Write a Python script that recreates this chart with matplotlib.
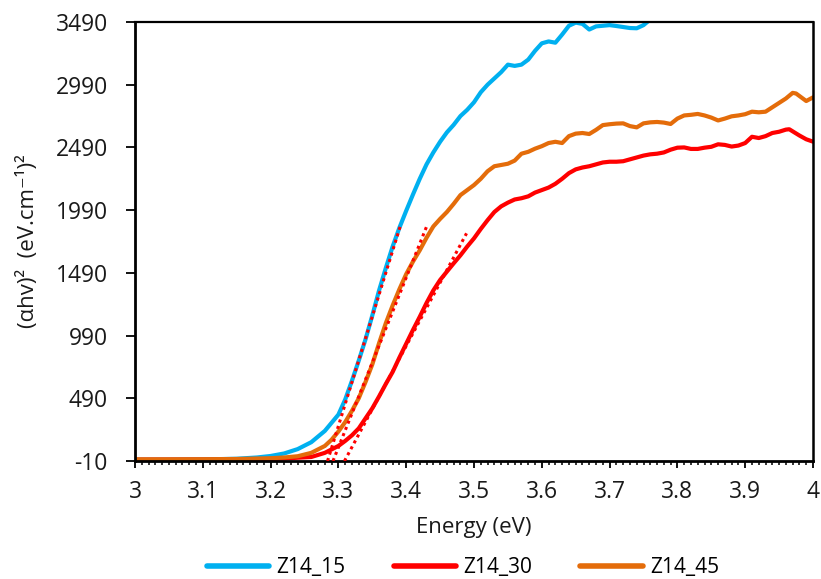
import matplotlib
matplotlib.use("Agg")
import matplotlib.pyplot as plt
import numpy as np
from matplotlib.ticker import MultipleLocator

plt.rcParams['font.family'] = ['Open Sans', 'DejaVu Sans']

# ---- data ----
e_15 = [3.00,3.05,3.10,3.15,3.18,3.20,3.22,3.24,3.26,3.28,3.30,3.31,3.32,3.33,3.34,3.35,3.36,3.37,3.38,3.39,
        3.40,3.41,3.42,3.43,3.44,3.45,3.46,3.47,3.48,3.49,3.50,3.51,3.52,3.53,3.54,3.55,3.56,3.57,3.58,3.59,
        3.60,3.61,3.62,3.63,3.64,3.65,3.66,3.67,3.68,3.69,3.70,3.71,3.72,3.73,3.74,3.75,3.76,3.78,3.80]
y_15 = [0,0,2,8,18,30,50,85,140,230,360,480,630,790,960,1150,1350,1530,1700,1850,
        1985,2115,2240,2355,2450,2535,2610,2670,2740,2790,2850,2930,2990,3040,3090,3150,3140,3150,3190,3260,
        3320,3335,3325,3390,3460,3485,3475,3430,3455,3460,3465,3458,3450,3442,3440,3465,3510,3560,3600]

e_30 = [3.00,3.10,3.15,3.20,3.22,3.24,3.26,3.28,3.30,3.31,3.32,3.33,3.34,3.35,3.36,3.37,3.38,3.39,
        3.40,3.41,3.42,3.43,3.44,3.45,3.46,3.47,3.48,3.49,3.50,3.51,3.52,3.53,3.54,3.55,3.56,3.57,3.58,3.59,
        3.60,3.61,3.62,3.63,3.64,3.65,3.66,3.67,3.68,3.69,3.70,3.71,3.72,3.73,3.74,3.75,3.76,3.77,3.78,3.79,
        3.80,3.81,3.82,3.83,3.84,3.85,3.86,3.87,3.88,3.89,3.90,3.91,3.92,3.93,3.94,3.95,3.96,3.965,3.98,3.99,4.00]
y_30 = [1,2,3,6,10,16,22,55,110,150,195,250,330,410,505,605,700,815,
        925,1035,1140,1250,1350,1433,1500,1566,1630,1700,1765,1840,1910,1975,2020,2050,2075,2085,2100,2130,
        2150,2170,2200,2240,2285,2315,2330,2340,2355,2370,2376,2376,2380,2395,2410,2425,2435,2440,2450,2472,
        2488,2490,2478,2478,2488,2495,2515,2510,2497,2505,2525,2575,2565,2580,2605,2615,2632,2635,2585,2555,2536]

e_45 = [3.00,3.05,3.10,3.15,3.20,3.22,3.24,3.26,3.28,3.29,3.30,3.31,3.32,3.33,3.34,3.35,3.36,3.37,3.38,3.39,
        3.40,3.41,3.42,3.43,3.44,3.45,3.46,3.47,3.48,3.49,3.50,3.51,3.52,3.53,3.54,3.55,3.56,3.57,3.58,3.59,
        3.60,3.61,3.62,3.63,3.64,3.65,3.66,3.67,3.68,3.69,3.70,3.71,3.72,3.73,3.74,3.75,3.76,3.77,3.78,3.79,
        3.80,3.81,3.82,3.83,3.84,3.85,3.86,3.87,3.88,3.89,3.90,3.91,3.92,3.93,3.94,3.95,3.96,3.97,3.975,3.99,4.00]
y_45 = [3,3,4,6,12,18,28,55,110,160,225,300,390,490,620,760,930,1090,1230,1360,
        1480,1580,1670,1770,1860,1920,1975,2040,2110,2150,2190,2240,2300,2340,2350,2360,2385,2440,2455,2480,
        2500,2525,2535,2525,2580,2600,2605,2597,2630,2668,2675,2680,2682,2660,2650,2682,2690,2693,2688,2677,
        2720,2745,2750,2757,2745,2728,2705,2720,2738,2745,2755,2775,2770,2775,2810,2845,2880,2925,2920,2860,2889]

# linear tangent fits (dotted)
fit_15_x = [3.284, 3.391]; fit_15_y = [-10, 1858]
fit_45_x = [3.292, 3.430]; fit_45_y = [-10, 1858]
fit_30_x = [3.309, 3.489]; fit_30_y = [-10, 1805]

series_names = ["Z14_15", "Z14_30", "Z14_45"]
colors = ["#00B0F0", "#FF0000", "#E46C0A"]
yticks = [-10, 490, 990, 1490, 1990, 2490, 2990, 3490]
xticks = [3, 3.1, 3.2, 3.3, 3.4, 3.5, 3.6, 3.7, 3.8, 3.9, 4]
xtick_labels = ["3", "3.1", "3.2", "3.3", "3.4", "3.5", "3.6", "3.7", "3.8", "3.9", "4"]

fig = plt.figure(figsize=(8.21, 5.79), dpi=100)
ax = fig.add_axes([135/821, 1-461/579, (813-135)/821, (461-22)/579])

ax.plot(e_15, y_15, color=colors[0], lw=3, label=series_names[0], solid_capstyle='round')
ax.plot(e_30, y_30, color=colors[1], lw=3, label=series_names[1], solid_capstyle='round')
ax.plot(e_45, y_45, color=colors[2], lw=3, label=series_names[2], solid_capstyle='round')

for fx, fy in [(fit_15_x, fit_15_y), (fit_45_x, fit_45_y), (fit_30_x, fit_30_y)]:
    ax.plot(fx, fy, color="#FF0000", lw=2.2, linestyle=(0, (1, 1.2)), zorder=5)

ax.set_xlim(3, 4)
ax.set_ylim(-10, 3490)
ax.set_yticks(yticks)
ax.set_yticklabels([str(v) for v in yticks])
ax.set_xticks(xticks)
ax.set_xticklabels(xtick_labels)
ax.xaxis.set_minor_locator(MultipleLocator(0.01))

for side in ['left', 'bottom', 'top', 'right']:
    ax.spines[side].set_color('black')
ax.spines['left'].set_linewidth(2)
ax.spines['bottom'].set_linewidth(2)
ax.spines['top'].set_linewidth(1.6)
ax.spines['right'].set_linewidth(1.8)

ax.tick_params(axis='y', which='major', direction='out', length=6.5, width=1.3,
               labelsize=16.5, pad=13, colors='black')
ax.tick_params(axis='x', which='major', direction='out', length=5, width=1.3,
               labelsize=16.5, pad=9)
ax.tick_params(axis='x', which='minor', direction='out', length=3, width=1.1)
for lbl in ax.get_xticklabels() + ax.get_yticklabels():
    lbl.set_color('#1a1a1a')

ax.set_xlabel("Energy (eV)", fontsize=16, color='#1a1a1a', va='top')
ax.set_ylabel("(\u03b1hv)\u00b2  (eV.cm\u207b\u00b9)\u00b2", fontsize=16, color='#1a1a1a')
ax.yaxis.set_label_coords(-0.142, 0.5)
ax.xaxis.set_label_coords(0.5, -0.128)

leg = fig.legend(loc='center', bbox_to_anchor=(463/821, 1-568/579), ncol=3, frameon=False,
                 fontsize=15, handlelength=3.0, handletextpad=0.35, columnspacing=2.3)
for line in leg.get_lines():
    line.set_linewidth(4)
    line.set_solid_capstyle('round')

fig.savefig("out.png", dpi=100)
